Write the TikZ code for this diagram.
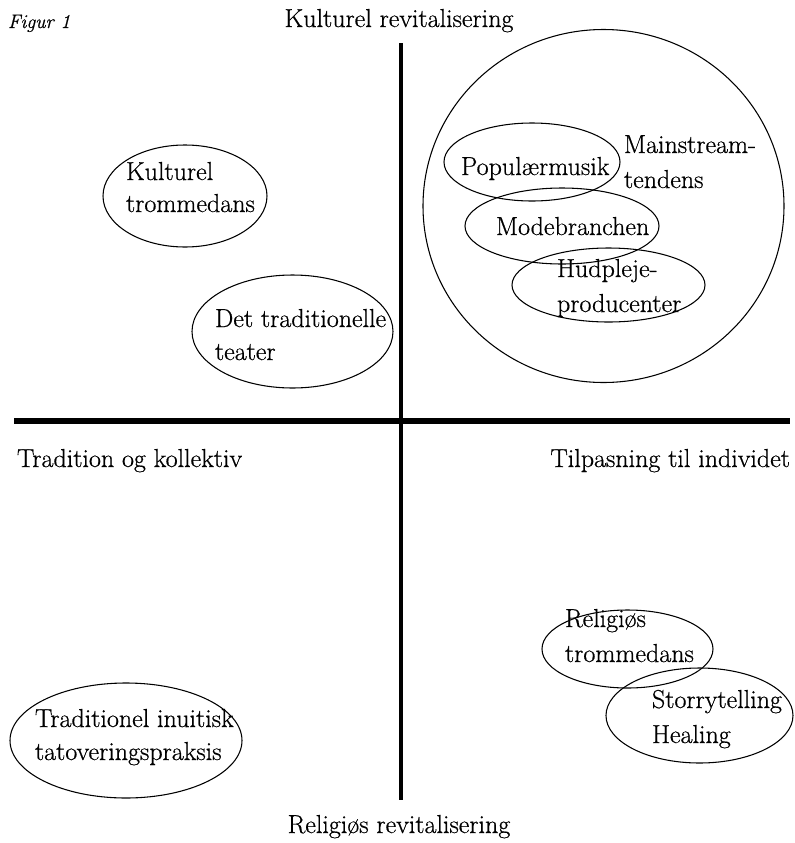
\documentclass[tikz,border=0pt]{standalone}
\usepackage{fontspec}
\setmainfont{Latin Modern Roman}[UprightFeatures={FakeBold=0.6},ItalicFeatures={FakeBold=0.6}]
\begin{document}
\begin{tikzpicture}[x=0.75pt,y=-0.75pt,
  lbl/.style={inner sep=0pt,outer sep=0pt,anchor=base west,font=\fontsize{19.5}{25}\selectfont},
  lblc/.style={lbl,anchor=base},
  ell/.style={line width=0.8pt}]
\useasboundingbox (0,0) rectangle (794,843);
% axes
\coordinate (hl) at (14,421);
\coordinate (hr) at (790,421);
\coordinate (vt) at (401,43);
\coordinate (vb) at (401,800);
\draw[line width=3.8pt] (hl) -- (hr);
\draw[line width=3pt] (vt) -- (vb);
% titles
\node[lbl,font=\fontsize{14.7}{17}\selectfont\itshape] (fig) at (8,28) {Figur 1};
\node[lblc] (top) at (399,27) {Kulturel revitalisering};
\node[lblc] (bot) at (399,833) {Religiøs revitalisering};
\node[lbl] (left) at (17,467) {Tradition og kollektiv};
\node[lbl,anchor=base east] (right) at (790,467) {Tilpasning til individet};
% ellipses
\draw[ell] (185,196) ellipse [x radius=82, y radius=51];
\draw[ell] (292.5,331.5) ellipse [x radius=100.5, y radius=56.5];
\draw[ell] (603.5,206) ellipse [x radius=180.5, y radius=176.5];
\draw[ell] (532,162) ellipse [x radius=88, y radius=39];
\draw[ell] (562,226) ellipse [x radius=97, y radius=38];
\draw[ell] (608.5,285) ellipse [x radius=96.5, y radius=37];
\draw[ell] (627.5,649) ellipse [x radius=85.5, y radius=39];
\draw[ell] (699.5,715.5) ellipse [x radius=93.5, y radius=47.5];
\draw[ell] (126,740.5) ellipse [x radius=116, y radius=57.5];
% texts
\node[lbl] (kt1) at (126,180) {Kulturel};
\node[lbl] (kt2) at (126,212) {trommedans};
\node[lbl] (dt1) at (215,327) {Det traditionelle};
\node[lbl] (dt2) at (215,360) {teater};
\node[lbl] (pm) at (461,175) {Populærmusik};
\node[lbl] (mb) at (496,235) {Modebranchen};
\node[lbl] (hp1) at (557,277) {Hudpleje-};
\node[lbl] (hp2) at (557,312) {producenter};
\node[lbl] (ms1) at (624,153) {Mainstream-};
\node[lbl] (ms2) at (624,188) {tendens};
\node[lbl] (rt1) at (565,627) {Religiøs};
\node[lbl] (rt2) at (565,662) {trommedans};
\node[lbl] (sh1) at (652,708) {Storrytelling};
\node[lbl] (sh2) at (652,743) {Healing};
\node[lbl] (ti1) at (35,727) {Traditionel inuitisk};
\node[lbl] (ti2) at (35,760) {tatoveringspraksis};
\end{tikzpicture}
\end{document}
